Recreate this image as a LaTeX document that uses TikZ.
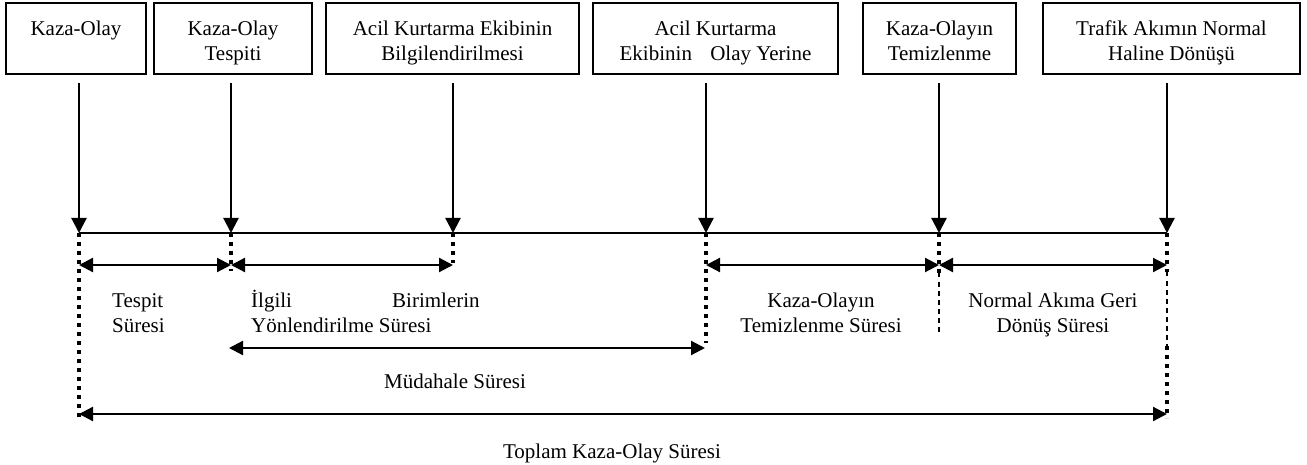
\documentclass[tikz,border=0pt]{standalone}
\usepackage{fontspec}
\setmainfont{Liberation Serif}
\usetikzlibrary{arrows.meta}
\tikzset{
  box/.style={draw, line width=2.6pt, minimum height=71pt, inner sep=0pt},
  lbl/.style={font=\fontsize{21}{25}\selectfont, inner sep=0pt, align=center},
  lbll/.style={font=\fontsize{21}{25}\selectfont, inner sep=0pt, align=left},
  down/.style={line width=2.2pt, -{Triangle[length=15pt,width=15pt]}},
  span/.style={line width=2.2pt, {Triangle[length=14pt,width=14pt]}-{Triangle[length=14pt,width=14pt]}},
  timeline/.style={line width=2.2pt},
  dotline/.style={line width=4pt, dash pattern=on 4pt off 5pt},
  thinline/.style={line width=1.8pt, dash pattern=on 4.5pt off 4.5pt}
}
\begin{document}
\begin{tikzpicture}[x=1pt,y=-1pt]
\useasboundingbox (0,0) rectangle (1307,465);

% boxes
\node[box, minimum width=140pt] (b1) at (76,38.5) {};
\node[box, minimum width=158pt] (b2) at (233,38.5) {};
\node[box, minimum width=253pt] (b3) at (452.5,38.5) {};
\node[box, minimum width=245pt] (b4) at (715.5,38.5) {};
\node[box, minimum width=153pt] (b5) at (939.5,38.5) {};
\node[box, minimum width=257pt] (b6) at (1171.5,38.5) {};

% box texts
\node[lbl, anchor=north] (t1) at (76,17) {\rule{0pt}{18pt}Kaza-Olay};
\node[lbl, anchor=north] (t2) at (233,17) {\rule{0pt}{18pt}Kaza-Olay\\Tespiti};
\node[lbl, anchor=north] (t3) at (452.5,17) {\rule{0pt}{18pt}Acil Kurtarma Ekibinin\\Bilgilendirilmesi};
\node[lbl, anchor=north] (t4) at (715.5,17) {\rule{0pt}{18pt}Acil Kurtarma\\Ekibinin\hspace{13pt} Olay Yerine};
\node[lbl, anchor=north] (t5) at (939.5,17) {\rule{0pt}{18pt}Kaza-Olayın\\Temizlenme};
\node[lbl, anchor=north] (t6) at (1171.5,17) {\rule{0pt}{18pt}Trafik Akımın Normal\\Haline Dönüşü};

% arrow starts and timeline points
\coordinate (a1) at (79,83);   \coordinate (p1) at (79,233);
\coordinate (a2) at (231,83);  \coordinate (p2) at (231,233);
\coordinate (a3) at (453,83);  \coordinate (p3) at (453,233);
\coordinate (a4) at (706,83);  \coordinate (p4) at (706,233);
\coordinate (a5) at (939,83);  \coordinate (p5) at (939,233);
\coordinate (a6) at (1167,83); \coordinate (p6) at (1167,233);

\foreach \i in {1,...,6} { \draw[down] (a\i) -- (p\i); }
\draw[timeline] (p1) -- (p6);

% vertical dotted drops
\coordinate (d1) at (79,418);
\coordinate (d2) at (231,271);
\coordinate (d3) at (453,263);
\coordinate (d4) at (706,343);
\coordinate (d5a) at (939,273); \coordinate (d5) at (939,335);
\coordinate (d6a) at (1167,272); \coordinate (d6b) at (1167,346); \coordinate (d6) at (1167,418);

\draw[dotline] (p1) -- (d1);
\draw[dotline] (p2) -- (d2);
\draw[dotline] (p3) -- (d3);
\draw[dotline] (p4) -- (d4);
\draw[dotline] (p5) -- (d5a);
\draw[thinline] (d5a) -- (d5);
\draw[dotline] (p6) -- (d6a);
\draw[thinline] (d6a) -- (d6b);
\draw[dotline] (d6b) -- (d6);

% span arrows
\coordinate (s1) at (79,265);  \coordinate (s2) at (231,265);  \coordinate (s3) at (453,265);
\coordinate (s4) at (706,265); \coordinate (s5) at (939,265);  \coordinate (s6) at (1167,265);
\draw[span] (s1) -- (s2);
\draw[span] (s2) -- (s3);
\draw[span] (s4) -- (s5);
\draw[span] (s5) -- (s6);
\coordinate (m1) at (229,348); \coordinate (m2) at (705,348);
\draw[span] (m1) -- (m2);
\coordinate (g1) at (79,414); \coordinate (g2) at (1167,414);
\draw[span] (g1) -- (g2);

% lower labels
\node[lbll, anchor=north west] (l1) at (112,289) {\rule{0pt}{18pt}Tespit\\Süresi};
\node[lbll, anchor=north west] (l2) at (251,289) {\rule{0pt}{18pt}\makebox[141pt][l]{İlgili}Birimlerin\\Yönlendirilme Süresi};
\node[lbl, anchor=north] (l3) at (821,289) {\rule{0pt}{18pt}Kaza-Olayın\\Temizlenme Süresi};
\node[lbl, anchor=north] (l4) at (1053,289) {\rule{0pt}{18pt}Normal Akıma Geri\\Dönüş Süresi};
\node[lbl, anchor=base] (l5) at (455,388) {Müdahale Süresi};
\node[lbl, anchor=base] (l6) at (612,458) {Toplam Kaza-Olay Süresi};
\end{tikzpicture}
\end{document}
